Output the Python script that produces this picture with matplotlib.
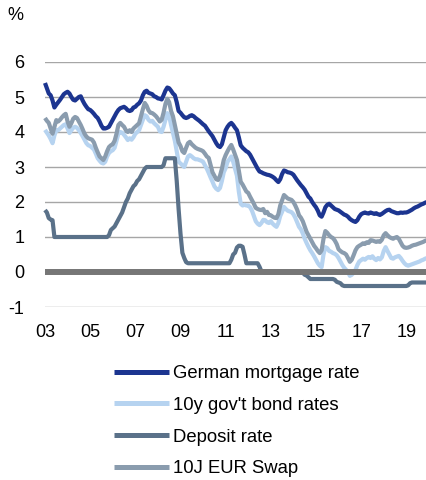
import numpy as np
import matplotlib
matplotlib.use("Agg")
import matplotlib.pyplot as plt

plt.rcParams['font.family'] = ['Liberation Sans', 'DejaVu Sans']

start_year = 2003
# monthly values Jan 2003 .. Dec 2019
mortgage = [
    5.40, 5.25, 5.10, 5.05, 4.90, 4.70, 4.78, 4.85, 4.92, 5.00, 5.08, 5.12,  # 2003
    5.15, 5.10, 5.00, 4.92, 4.90, 4.95, 5.00, 5.02, 4.90, 4.80, 4.72, 4.65,  # 2004
    4.63, 4.58, 4.52, 4.45, 4.40, 4.30, 4.18, 4.10, 4.10, 4.12, 4.15, 4.25,  # 2005
    4.35, 4.45, 4.55, 4.63, 4.68, 4.70, 4.72, 4.68, 4.62, 4.60, 4.62, 4.70,  # 2006
    4.72, 4.78, 4.82, 4.90, 5.05, 5.15, 5.18, 5.12, 5.10, 5.08, 5.02, 5.00,  # 2007
    4.96, 4.95, 4.93, 5.05, 5.18, 5.27, 5.25, 5.18, 5.10, 5.05, 4.85, 4.60,  # 2008
    4.55, 4.48, 4.42, 4.40, 4.42, 4.46, 4.48, 4.45, 4.40, 4.36, 4.32, 4.27,  # 2009
    4.22, 4.18, 4.10, 4.02, 3.95, 3.88, 3.78, 3.68, 3.60, 3.57, 3.65, 3.85,  # 2010
    4.05, 4.15, 4.22, 4.26, 4.20, 4.12, 4.05, 3.85, 3.62, 3.55, 3.50, 3.45,  # 2011
    3.42, 3.35, 3.25, 3.15, 3.05, 2.95, 2.87, 2.85, 2.82, 2.80, 2.78, 2.77,  # 2012
    2.75, 2.72, 2.68, 2.62, 2.57, 2.65, 2.80, 2.90, 2.88, 2.85, 2.84, 2.82,  # 2013
    2.78, 2.70, 2.62, 2.55, 2.48, 2.42, 2.35, 2.25, 2.15, 2.10, 2.00, 1.92,  # 2014
    1.85, 1.75, 1.62, 1.58, 1.70, 1.85, 1.92, 1.95, 1.90, 1.85, 1.80, 1.78,  # 2015
    1.76, 1.72, 1.68, 1.64, 1.62, 1.58, 1.52, 1.48, 1.45, 1.43, 1.48, 1.58,  # 2016
    1.65, 1.68, 1.70, 1.68, 1.67, 1.70, 1.68, 1.66, 1.68, 1.65, 1.63, 1.66,  # 2017
    1.70, 1.74, 1.77, 1.78, 1.74, 1.72, 1.70, 1.68, 1.68, 1.70, 1.69, 1.70,  # 2018
    1.70, 1.72, 1.75, 1.78, 1.82, 1.85, 1.87, 1.90, 1.93, 1.95, 1.98, 2.00,  # 2019
]
govbond = [
    4.06, 3.98, 3.90, 3.80, 3.68, 3.90, 4.06, 4.05, 4.10, 4.15, 4.20, 4.22,  # 2003
    4.10, 3.97, 4.05, 4.12, 4.15, 4.12, 4.05, 3.97, 3.88, 3.78, 3.68, 3.62,  # 2004
    3.60, 3.55, 3.50, 3.38, 3.25, 3.18, 3.12, 3.10, 3.15, 3.30, 3.40, 3.45,  # 2005
    3.48, 3.55, 3.75, 3.95, 4.00, 3.98, 3.92, 3.85, 3.77, 3.82, 3.78, 3.85,  # 2006
    3.95, 4.00, 4.05, 4.20, 4.35, 4.48, 4.45, 4.35, 4.30, 4.32, 4.25, 4.20,  # 2007
    4.15, 4.02, 4.00, 4.15, 4.35, 4.54, 4.45, 4.20, 3.97, 3.75, 3.45, 3.15,  # 2008
    3.10, 3.05, 3.00, 3.15, 3.30, 3.34, 3.30, 3.25, 3.22, 3.22, 3.20, 3.18,  # 2009
    3.15, 3.05, 2.95, 2.83, 2.70, 2.58, 2.45, 2.38, 2.34, 2.40, 2.60, 2.85,  # 2010
    2.97, 3.15, 3.22, 3.30, 3.15, 2.95, 2.75, 2.30, 1.95, 1.90, 1.92, 1.90,  # 2011
    1.90, 1.85, 1.75, 1.60, 1.45, 1.38, 1.34, 1.40, 1.49, 1.48, 1.42, 1.40,  # 2012
    1.45, 1.38, 1.33, 1.29, 1.40, 1.60, 1.72, 1.86, 1.80, 1.75, 1.73, 1.71,  # 2013
    1.65, 1.55, 1.42, 1.29, 1.22, 1.10, 0.95, 0.83, 0.72, 0.62, 0.54, 0.45,  # 2014
    0.35, 0.25, 0.18, 0.14, 0.50, 0.71, 0.68, 0.60, 0.58, 0.54, 0.52, 0.48,  # 2015
    0.40, 0.30, 0.20, 0.12, 0.06, 0.00, -0.11, -0.08, -0.02, 0.06, 0.20, 0.30,  # 2016
    0.34, 0.38, 0.35, 0.40, 0.43, 0.40, 0.45, 0.38, 0.34, 0.40, 0.36, 0.42,  # 2017
    0.60, 0.71, 0.60, 0.50, 0.40, 0.38, 0.42, 0.44, 0.46, 0.40, 0.32, 0.25,  # 2018
    0.20, 0.18, 0.20, 0.22, 0.24, 0.26, 0.28, 0.30, 0.33, 0.35, 0.38, 0.40,  # 2019
]
deposit = [
    1.77, 1.70, 1.54, 1.50, 1.48, 1.00, 1.00, 1.00, 1.00, 1.00, 1.00, 1.00,  # 2003
    1.00, 1.00, 1.00, 1.00, 1.00, 1.00, 1.00, 1.00, 1.00, 1.00, 1.00, 1.00,  # 2004
    1.00, 1.00, 1.00, 1.00, 1.00, 1.00, 1.00, 1.00, 1.00, 1.00, 1.05, 1.20,  # 2005
    1.25, 1.30, 1.40, 1.50, 1.60, 1.70, 1.85, 2.00, 2.10, 2.25, 2.35, 2.45,  # 2006
    2.50, 2.60, 2.65, 2.75, 2.85, 2.95, 3.00, 3.00, 3.00, 3.00, 3.00, 3.00,  # 2007
    3.00, 3.00, 3.00, 3.05, 3.25, 3.25, 3.25, 3.25, 3.25, 3.25, 2.60, 1.80,  # 2008
    1.10, 0.55, 0.40, 0.28, 0.25, 0.25, 0.25, 0.25, 0.25, 0.25, 0.25, 0.25,  # 2009
    0.25, 0.25, 0.25, 0.25, 0.25, 0.25, 0.25, 0.25, 0.25, 0.25, 0.25, 0.25,  # 2010
    0.25, 0.25, 0.25, 0.35, 0.50, 0.55, 0.70, 0.75, 0.75, 0.72, 0.50, 0.25,  # 2011
    0.25, 0.25, 0.25, 0.25, 0.25, 0.25, 0.15, 0.02, 0.00, 0.00, 0.00, 0.00,  # 2012
    0.00, 0.00, 0.00, 0.00, 0.00, 0.00, 0.00, 0.00, 0.00, 0.00, 0.00, 0.00,  # 2013
    0.00, 0.00, 0.00, 0.00, 0.00, -0.02, -0.08, -0.10, -0.15, -0.20, -0.20, -0.20,  # 2014
    -0.20, -0.20, -0.20, -0.20, -0.20, -0.20, -0.20, -0.20, -0.20, -0.20, -0.22, -0.28,  # 2015
    -0.30, -0.32, -0.38, -0.40, -0.40, -0.40, -0.40, -0.40, -0.40, -0.40, -0.40, -0.40,  # 2016
    -0.40, -0.40, -0.40, -0.40, -0.40, -0.40, -0.40, -0.40, -0.40, -0.40, -0.40, -0.40,  # 2017
    -0.40, -0.40, -0.40, -0.40, -0.40, -0.40, -0.40, -0.40, -0.40, -0.40, -0.40, -0.40,  # 2018
    -0.40, -0.38, -0.32, -0.30, -0.30, -0.30, -0.30, -0.30, -0.30, -0.30, -0.30, -0.30,  # 2019
]
swap = [
    4.40, 4.32, 4.26, 4.10, 3.95, 4.15, 4.34, 4.30, 4.35, 4.42, 4.48, 4.52,  # 2003
    4.30, 4.15, 4.25, 4.38, 4.43, 4.40, 4.30, 4.20, 4.08, 3.95, 3.87, 3.82,  # 2004
    3.80, 3.78, 3.70, 3.55, 3.42, 3.30, 3.25, 3.20, 3.30, 3.45, 3.57, 3.62,  # 2005
    3.65, 3.75, 3.95, 4.20, 4.26, 4.20, 4.15, 4.05, 4.00, 4.05, 4.00, 4.10,  # 2006
    4.15, 4.20, 4.25, 4.45, 4.65, 4.83, 4.75, 4.62, 4.55, 4.54, 4.50, 4.45,  # 2007
    4.38, 4.30, 4.35, 4.55, 4.80, 4.95, 4.85, 4.60, 4.45, 4.20, 3.95, 3.70,  # 2008
    3.60, 3.45, 3.40, 3.55, 3.68, 3.72, 3.65, 3.60, 3.55, 3.52, 3.50, 3.48,  # 2009
    3.45, 3.38, 3.30, 3.26, 3.05, 2.85, 2.75, 2.65, 2.63, 2.75, 2.95, 3.20,  # 2010
    3.34, 3.45, 3.55, 3.63, 3.50, 3.35, 3.20, 2.90, 2.58, 2.50, 2.40, 2.30,  # 2011
    2.26, 2.15, 2.05, 1.95, 1.83, 1.80, 1.78, 1.77, 1.80, 1.68, 1.72, 1.63,  # 2012
    1.62, 1.58, 1.55, 1.54, 1.65, 1.90, 2.05, 2.20, 2.15, 2.10, 2.08, 2.06,  # 2013
    2.00, 1.90, 1.78, 1.62, 1.55, 1.45, 1.30, 1.15, 1.05, 0.95, 0.85, 0.75,  # 2014
    0.68, 0.60, 0.54, 0.62, 0.95, 1.17, 1.12, 1.05, 1.00, 0.97, 0.90, 0.80,  # 2015
    0.65, 0.60, 0.56, 0.54, 0.50, 0.40, 0.29, 0.35, 0.48, 0.62, 0.71, 0.75,  # 2016
    0.78, 0.82, 0.80, 0.85, 0.83, 0.91, 0.90, 0.88, 0.86, 0.88, 0.86, 0.92,  # 2017
    1.05, 1.11, 1.05, 1.00, 0.97, 0.95, 0.98, 1.00, 0.95, 0.85, 0.75, 0.70,  # 2018
    0.69, 0.70, 0.72, 0.75, 0.77, 0.78, 0.80, 0.82, 0.84, 0.86, 0.89, 0.91,  # 2019
]

series_labels = ["German mortgage rate", "10y gov't bond rates", "Deposit rate", "10J EUR Swap"]
series_colors = ["#1c3590", "#b6d3f0", "#5a7189", "#8a9cae"]
tick_years = [2003, 2005, 2007, 2009, 2011, 2013, 2015, 2017, 2019]
tick_labels = ["03", "05", "07", "09", "11", "13", "15", "17", "19"]
y_ticks = [-1, 0, 1, 2, 3, 4, 5, 6]

x = start_year + np.arange(len(mortgage)) / 12.0

W, H = 427, 480
fig = plt.figure(figsize=(W / 100, H / 100), dpi=100)
ax = fig.add_axes([45 / W, 1 - 307 / H, (427 - 45) / W, (307 - 62) / H])

for vals, lab, col in zip([mortgage, govbond, deposit, swap], series_labels, series_colors):
    ax.plot(x, vals, color=col, lw=3.0, label=lab, solid_capstyle='butt',
            solid_joinstyle='round', zorder=3, clip_on=False)

ax.axhline(0, color="#767676", lw=4.3, zorder=5)

ax.set_xlim(x[0], x[-1])
ax.set_ylim(-1, 6)
ax.set_yticks(y_ticks)
ax.set_yticklabels([str(v) for v in y_ticks])
ax.set_xticks(tick_years)
ax.set_xticklabels(tick_labels)
ax.yaxis.grid(True, color="#a6a6a6", lw=1.0)
ax.set_axisbelow(True)
for s in ax.spines.values():
    s.set_visible(False)
ax.tick_params(axis='both', length=0, labelsize=13, colors="#000000")
ax.tick_params(axis='y', pad=15)
ax.tick_params(axis='x', pad=12)

fig.text(15 / W, 1 - 16 / H, "%", fontsize=13, ha='center', va='center')

leg = fig.legend(loc='upper left', bbox_to_anchor=(114 / W, 1 - 365 / H),
                 frameon=False, fontsize=13.3, handlelength=3.0, handletextpad=0.17,
                 labelspacing=0.8, borderpad=0, borderaxespad=0)
for line in leg.get_lines():
    line.set_linewidth(3.6)

fig.savefig("out.png", dpi=100)
